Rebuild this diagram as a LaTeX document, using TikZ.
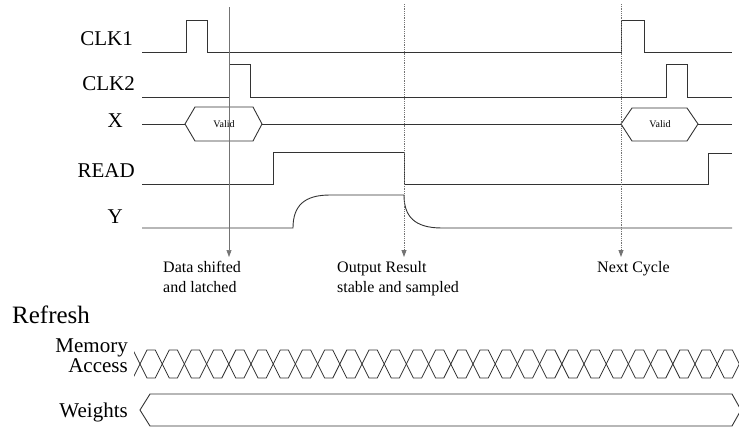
\documentclass[tikz,border=0pt]{standalone}
\usepackage{fontspec}
\setmainfont{Liberation Serif}
\usetikzlibrary{arrows.meta}
\usetikzlibrary{calc}

\tikzset{
    sig/.style={draw=black!80, line width=0.9pt},
    marker/.style={draw=black!55, line width=0.6pt},
    dotmarker/.style={draw=black!55, line width=0.8pt, densely dotted},
    tipped/.style={-{Triangle[length=7pt,width=5pt]}},
    siglabel/.style={anchor=base east, inner sep=0pt, font=\fontsize{21}{24}\selectfont},
    note/.style={anchor=north west, inner sep=0pt, align=left, font=\fontsize{16}{20}\selectfont},
    validtext/.style={inner sep=0pt, font=\fontsize{10}{11}\selectfont},
}

\begin{document}
\begin{tikzpicture}[x=1pt,y=-1pt]
        \useasboundingbox (0,0) rectangle (739,429);
        % signal names
        \node[siglabel] (clk1) at (133,45) {CLK1};
        \node[siglabel] (clk2) at (135,90) {CLK2};
        \node[siglabel] (x) at (123,127) {X};
        \node[siglabel] (read) at (135,177) {READ};
        \node[siglabel] (y) at (123,223) {Y};
        % waveforms
        \draw[sig] (142,52) -- (186,52) -- (186,20) -- (207,20) -- (207,52) -- (621,52) -- (621,20) -- (644,20) -- (644,52) -- (732,52);
        \draw[sig] (142,97) -- (229,97) -- (229,64) -- (250,64) -- (250,97) -- (666,97) -- (666,64) -- (687,64) -- (687,97) -- (732,97);
        \draw[sig] (142,124) -- (185,124);
        \draw[sig] (185,124) -- (195,107) -- (253,107) -- (262,124) -- (253,141) -- (195,141) -- cycle;
        \draw[sig] (262,124) -- (621,124);
        \draw[sig] (621,124) -- (632,108) -- (687,108) -- (698,124) -- (687,141) -- (632,141) -- cycle;
        \draw[sig] (698,124) -- (732,124);
        \node[validtext] (valid1) at (224,124) {Valid};
        \node[validtext] (valid2) at (660,124) {Valid};
        \draw[sig] (142,184) -- (273,184) -- (273,152) -- (404,152) -- (404,184) -- (708,184) -- (708,153) -- (732,153);
        \draw[sig] (142,228) -- (293,228) .. controls (293,206) and (304,195) .. (330,195) -- (404,195) .. controls (404,216) and (414,228) .. (442,228) -- (732,228);
        % events
        \coordinate (shiftTop) at (229,7);
        \coordinate (shiftEnd) at (229,257);
        \coordinate (outTop) at (404,4);
        \coordinate (outEnd) at (404,257);
        \coordinate (nextTop) at (621,4);
        \coordinate (nextEnd) at (621,257);
        \draw[marker,tipped] (shiftTop) -- (shiftEnd);
        \draw[dotmarker,tipped] (outTop) -- (outEnd);
        \draw[dotmarker,tipped] (nextTop) -- (nextEnd);
        \node[note] (shifted) at (163,261) {Data shifted\\and latched};
        \node[note] (output) at (337,261) {Output Result\\stable and sampled};
        \node[note] (next) at (597,261) {Next Cycle};
        % refresh part
        \node[anchor=base west, inner sep=0pt, font=\fontsize{25}{30}\selectfont] (refresh) at (12,323) {Refresh};
        \node[anchor=north east, inner sep=0pt, align=right, font=\fontsize{21}{20}\selectfont] (memory) at (128,339) {Memory\\Access};
        \node[anchor=base east, inner sep=0pt, font=\fontsize{21}{24}\selectfont] (weights) at (128,417) {Weights};
        \begin{scope}
            \clip (134,340) rectangle (739,390);
            \foreach \i in {-1,...,26} {
                \draw[sig, line width=0.8pt] ($(140,364)+(\i*22.2,0)$) -- ++(7,-14) -- ++(8.2,0) -- ++(7,14) -- ++(-7,14) -- ++(-8.2,0) -- cycle;
            }
        \end{scope}
        \draw[sig] (140,410) -- (150,394) -- (732,394) -- (741,410) -- (732,426) -- (150,426) -- cycle;
    \end{tikzpicture}
\end{document}
